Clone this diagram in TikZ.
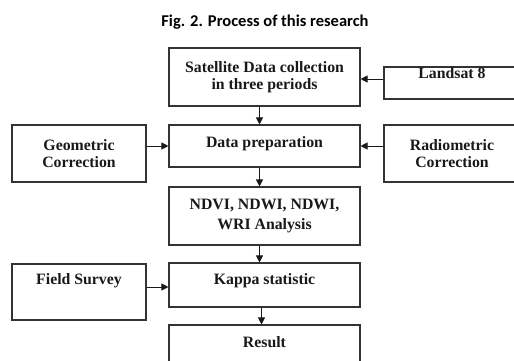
\documentclass[tikz,border=0pt]{standalone}
\usepackage{fontspec}
\setmainfont{Liberation Serif}
\newfontfamily\titlefont{Carlito}
\usetikzlibrary{arrows.meta}
\tikzset{
  box/.style={draw=black!80, line width=1.1pt, inner xsep=2pt, inner ysep=0pt, align=center,
    text=black!90, font=\fontsize{15.8}{17}\selectfont\bfseries},
  midbox/.style={box, minimum width=191pt},
  sidebox/.style={box, minimum width=136pt},
  arr/.style={line width=1pt, black!90, -{Triangle[length=7pt,width=7pt]}}
}
\begin{document}
\begin{tikzpicture}[x=1pt,y=-1pt]
  \useasboundingbox (0,0) rectangle (514,360);
  \clip (0,0) rectangle (514,360);
  \fill[white] (0,0) rectangle (514,360);
  % title
  \node[font=\titlefont\bfseries\fontsize{16.5}{18}\selectfont] (title) at (265,22) {Fig. 2. Process of this research};
  % middle column
  \node[midbox, minimum height=58pt] (sat) at (264.5,77) {Satellite Data collection\\in three periods};
  \node[midbox, text height=22pt, text depth=20pt] (prep) at (264.5,146) {Data preparation};
  \node[midbox, minimum height=58pt] (ndvi) at (264.5,216) {NDVI, NDWI, NDWI,\\[3pt]WRI Analysis};
  \node[midbox, text height=21pt, text depth=23pt] (kappa) at (264.5,285) {Kappa statistic};
  \node[midbox, text height=22pt, text depth=40pt] (res) at (264.5,356) {Result};
  % side boxes
  \node[sidebox, minimum height=32pt, text height=11pt, text depth=21pt] (land) at (452,83) {Landsat 8};
  \node[sidebox, minimum width=134pt, minimum height=57pt] (geo) at (79,153.5) {Geometric\\Correction};
  \node[sidebox, minimum height=57pt] (radio) at (452,153.5) {Radiometric\\Correction};
  \node[sidebox, minimum width=134pt, text height=20pt, text depth=36pt] (field) at (79,292) {Field Survey};
  % connectors
  \draw[arr] ([yshift=4pt]land.west) -- ([yshift=4pt]land.west -| sat.east);
  \draw[arr] (geo.east |- prep.east) -- (prep.west);
  \draw[arr] (radio.west |- prep.east) -- (prep.east);
  \draw[arr] ([yshift=-2pt]field.east |- kappa.west) -- ([yshift=-2pt]kappa.west);
  \draw[arr] ([xshift=-5pt]sat.south) -- ([xshift=-5pt]prep.north);
  \draw[arr] ([xshift=-5pt]prep.south) -- ([xshift=-5pt]ndvi.north);
  \draw[arr] ([xshift=-5pt]ndvi.south) -- ([xshift=-5pt]kappa.north);
  \draw[arr] ([xshift=-3pt]kappa.south) -- ([xshift=-3pt]res.north);
\end{tikzpicture}
\end{document}
